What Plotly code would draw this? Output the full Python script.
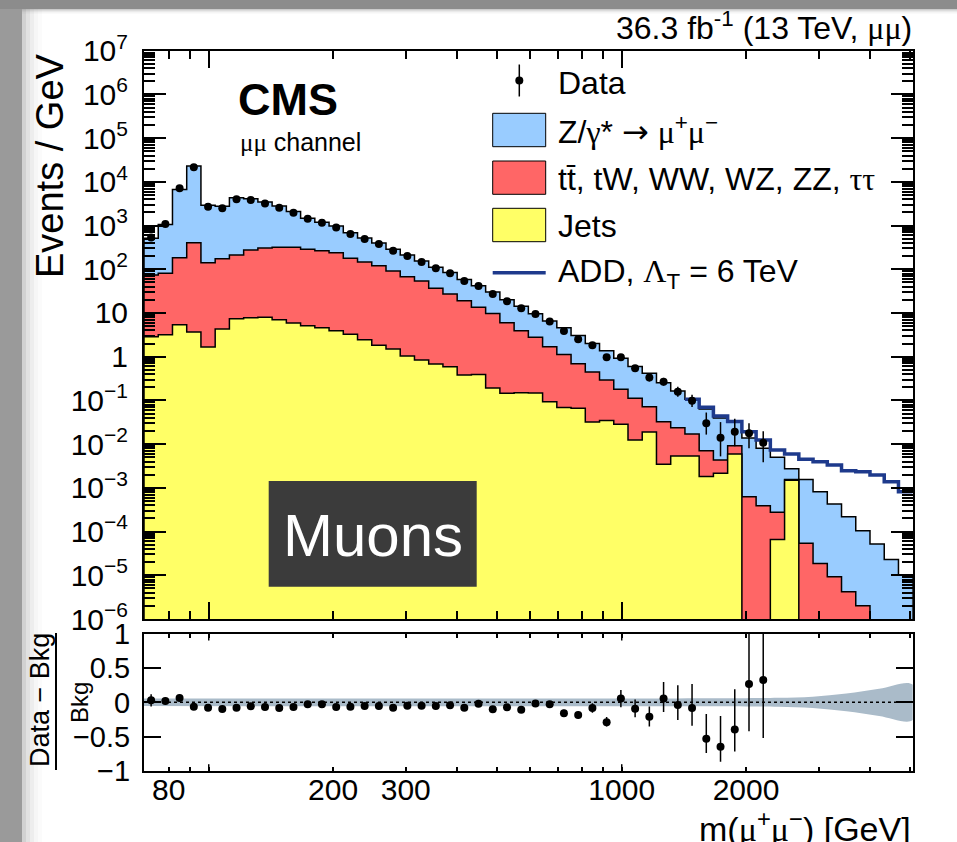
import numpy as np
import plotly.graph_objects as go

W, H = 957, 842
FONT = "Liberation Sans, Arial, Helvetica, sans-serif"
SERIF = "Liberation Serif, Times New Roman, serif"

# ---- binning: equal-width bins in log(m) ----
m_low, m_high, n_bins = 69.7, 5065.0, 54
edges = np.geomspace(m_low, m_high, n_bins + 1)
centers = np.sqrt(edges[:-1] * edges[1:])

# ---- stacked background levels (events / GeV) ----
# top of the full stack: Jets + other + Z/gamma*
stack_total = [515, 1063, 6680, 22950, 2930, 2750, 4320, 4080, 3450, 2790,
               2110, 1475, 1195, 975, 683, 520, 400, 288, 211, 155,
               111, 84.7, 58.4, 42.2, 30.3, 20.0, 14.3, 9.6, 6.56, 4.6,
               3.06, 2.0, 1.36, 0.916, 0.597, 0.421, 0.253, 0.164, 0.107, 0.0638,
               0.0398, 0.0319, 0.0139, 0.0081, 0.0050, 0.00273, 0.00156, 8.1e-4, 4.26e-4, 2.18e-4,
               1.04e-4, 5.2e-5, 2.3e-5, 1.0e-5]
# top of Jets + (tt, tW, WW, WZ, ZZ, tautau)
stack_other = [74, 81, 184, 405, 141, 174, 212, 275, 306, 318,
               318, 286, 266, 239, 178, 147, 120, 91, 67.6, 53.8,
               36.6, 27.2, 19.1, 13.5, 9.8, 5.98, 3.93, 2.77, 1.69, 1.13,
               0.69, 0.446, 0.292, 0.179, 0.112, 0.0717, 0.0325, 0.0237, 0.0170, 0.00706,
               0.00433, 0.00918, 6.25e-4, 3.9e-4, 2.75e-4, 1.55e-3, 5.4e-5, 1.87e-5, 9.2e-6, 4.2e-6,
               2.0e-6, 0, 0, 0]
# Jets alone
stack_jets = [2.86, 3.18, 5.39, 3.67, 1.66, 4.3, 7.4, 7.8, 7.95, 7.0,
              5.9, 5.1, 4.6, 3.93, 3.25, 2.44, 1.82, 1.5, 1.035, 0.84,
              0.68, 0.59, 0.381, 0.391, 0.192, 0.145, 0.15, 0.148, 0.0933, 0.0687,
              0.0659, 0.032, 0.0348, 0.0285, 0.0124, 0.0189, 0.00347, 0.00535, 0.00535, 0.00182,
              0.00215, 0.00593, 0, 0, 6.6e-5, 1.5e-3, 0, 0, 0, 0,
              0, 0, 0, 0]

# ---- (Data - Bkg) / Bkg for the populated bins, with asymmetric errors ----
ratio = [0.03, 0.02, 0.064, -0.063, -0.078, -0.097, -0.078, -0.058, -0.068, -0.083,
         -0.068, -0.028, -0.028, -0.068, -0.063, -0.054, -0.054, -0.078, -0.049, -0.049,
         -0.054, -0.044, -0.078, -0.02, -0.102, -0.073, -0.107, -0.015, -0.028, -0.16,
         -0.185, -0.083, -0.29, 0.055, -0.092, -0.209, 0.055, -0.038, -0.082, -0.531,
         -0.648, -0.399, 0.269, 0.328]
ratio_err_up = [0.09, 0.05, 0.05, 0.03, 0.03, 0.03, 0.03, 0.03, 0.03, 0.03,
                0.03, 0.03, 0.03, 0.03, 0.03, 0.03, 0.03, 0.03, 0.03, 0.03,
                0.03, 0.03, 0.03, 0.03, 0.03, 0.03, 0.03, 0.03, 0.03, 0.05,
                0.05, 0.07, 0.075, 0.127, 0.135, 0.15, 0.243, 0.29, 0.35, 0.36,
                0.45, 0.59, 0.9, 1.1]
ratio_err_dn = [0.09, 0.05, 0.05, 0.03, 0.03, 0.03, 0.03, 0.03, 0.03, 0.03,
                0.03, 0.03, 0.03, 0.03, 0.03, 0.03, 0.03, 0.03, 0.03, 0.03,
                0.03, 0.03, 0.03, 0.03, 0.03, 0.03, 0.03, 0.03, 0.03, 0.05,
                0.05, 0.07, 0.065, 0.127, 0.126, 0.146, 0.195, 0.22, 0.26, 0.21,
                0.22, 0.32, 0.69, 0.85]

# ---- ADD signal + background, from bin 38 upwards ----
add_first_bin = 38
add_total = [0.107, 0.0695, 0.044, 0.033, 0.0192, 0.0124, 0.00733, 0.00593,
             0.00449, 0.00395, 0.00333, 0.00246, 0.00233, 0.00196, 0.00138, 0.00081]

# ---- systematic uncertainty band in the ratio panel ----
band_mass = [69.7, 1000, 2000, 2400, 2900, 3500, 4200, 5065]
band_half = [0.055, 0.058, 0.06, 0.066, 0.083, 0.13, 0.2, 0.26]

# ---- axis ticks ----
x_long_ticks = [100, 1000]
x_short_ticks = [80, 90, 200, 300, 400, 500, 600, 700, 800, 900, 2000, 3000, 4000, 5000]
x_label_vals = [80, 200, 300, 1000, 2000]
x_label_text = ["80", "200", "300", "1000", "2000"]

n_data = len(ratio)
total = np.array(stack_total, dtype=float)
data = total[:n_data] * (1 + np.array(ratio))
data_up = total[:n_data] * np.array(ratio_err_up)
data_dn = total[:n_data] * np.array(ratio_err_dn)

FLOOR = 1e-12


def step_polygon(vals):
    v = np.asarray(vals, dtype=float)
    v = np.where(v > 0, v, FLOOR)
    xs, ys = [edges[0]], [FLOOR]
    for i in range(n_bins):
        xs += [edges[i], edges[i + 1]]
        ys += [v[i], v[i]]
    xs += [edges[-1], edges[0]]
    ys += [FLOOR, FLOOR]
    return xs, ys


fig = go.Figure()

for vals, color in [(stack_total, "#99ccff"), (stack_other, "#ff6666"), (stack_jets, "#ffff66")]:
    xs, ys = step_polygon(vals)
    fig.add_trace(go.Scatter(x=xs, y=ys, mode="lines", fill="toself", fillcolor=color,
                             line=dict(color="black", width=1.5), hoverinfo="skip",
                             showlegend=False, xaxis="x", yaxis="y"))

# ADD curve as a step line
ax, ay = [], []
for k, val in enumerate(add_total):
    i = add_first_bin + k
    ax += [edges[i], edges[i + 1]]
    ay += [val, val]
fig.add_trace(go.Scatter(x=ax, y=ay, mode="lines", line=dict(color="#1e3a8c", width=3.5),
                         hoverinfo="skip", showlegend=False, xaxis="x", yaxis="y"))

# data points
fig.add_trace(go.Scatter(x=centers[:n_data], y=data, mode="markers",
                         marker=dict(color="black", size=8),
                         error_y=dict(type="data", symmetric=False, array=data_up, arrayminus=data_dn,
                                      color="black", thickness=1.5, width=0),
                         showlegend=False, xaxis="x", yaxis="y"))

# ratio panel: uncertainty band
bx = list(band_mass) + list(band_mass[::-1])
by = list(band_half) + [-h for h in band_half[::-1]]
fig.add_trace(go.Scatter(x=bx, y=by, mode="lines", fill="toself", fillcolor="#aabbc9",
                         line=dict(width=0, color="#aabbc9", shape="spline"), hoverinfo="skip",
                         showlegend=False, xaxis="x2", yaxis="y2"))
fig.add_trace(go.Scatter(x=[edges[0], edges[-1]], y=[0, 0], mode="lines",
                         line=dict(color="black", width=1.5, dash="dot"), hoverinfo="skip",
                         showlegend=False, xaxis="x2", yaxis="y2"))
fig.add_trace(go.Scatter(x=centers[:n_data], y=ratio, mode="markers",
                         marker=dict(color="black", size=8),
                         error_y=dict(type="data", symmetric=False, array=ratio_err_up,
                                      arrayminus=ratio_err_dn, color="black", thickness=1.5, width=0),
                         showlegend=False, xaxis="x2", yaxis="y2"))


def px(x):
    return x / W


def py(y):
    return 1 - y / H


y_major = [10.0 ** k for k in range(-6, 8)]
y_text = ["10<sup>−%d</sup>" % -k if k < 0 else ("1" if k == 0 else ("10" if k == 1 else "10<sup>%d</sup>" % k))
          for k in range(-6, 8)]
y_minor = [d * 10.0 ** k for k in range(-6, 7) for d in range(2, 10)]
xrange_log = [np.log10(m_low), np.log10(m_high)]
x_dom = [px(144), px(912.7)]

axis_frame = dict(showgrid=False, zeroline=False, showline=True, linecolor="black", linewidth=2,
                  mirror="allticks", ticks="inside", tickwidth=1.5, tickcolor="black",
                  automargin=False)

fig.update_layout(
    width=W, height=H, margin=dict(l=0, r=0, t=0, b=0, pad=0, autoexpand=False), autosize=False,
    paper_bgcolor="white", plot_bgcolor="white", showlegend=False,
    font=dict(family=FONT, color="black"),
    xaxis=dict(anchor="y", type="log", range=xrange_log, domain=x_dom,
               tickvals=x_long_ticks, ticklen=17, showticklabels=False,
               minor=dict(tickmode="array", tickvals=x_short_ticks, ticks="inside", ticklen=8,
                          tickwidth=1.5, tickcolor="black"),
               **axis_frame),
    xaxis2=dict(anchor="y2", type="log", range=xrange_log, domain=x_dom,
                tickvals=x_label_vals + [100], ticktext=x_label_text + [""], ticklen=3.5,
                tickfont=dict(size=30, family=FONT), ticklabelstandoff=-9,
                minor=dict(tickmode="array",
                           tickvals=[v for v in x_short_ticks if v not in x_label_vals],
                           ticks="inside", ticklen=3.5, tickwidth=1.5, tickcolor="black"),
                **axis_frame),
    yaxis=dict(anchor="x", type="log", range=[-6, 7], domain=[py(619), py(50.7)],
               tickvals=y_major, ticktext=y_text, ticklen=22,
               minor=dict(tickmode="array", tickvals=y_minor, ticks="inside", ticklen=11,
                          tickwidth=1.5, tickcolor="black"),
               tickfont=dict(size=30, family=FONT), ticklabelstandoff=8, **axis_frame),
    yaxis2=dict(anchor="x2", range=[-1, 1], domain=[py(770.7), py(634)],
                tickvals=[-1, -0.5, 0, 0.5, 1], ticktext=["−1", "−0.5", "0", "0.5", "1"],
                ticklen=17, tickfont=dict(size=29, family=FONT), ticklabelstandoff=6,
                **axis_frame),
)

shapes = []
# page frame
shapes.append(dict(type="rect", xref="paper", yref="paper", x0=0, x1=px(22), y0=0, y1=1,
                   fillcolor="#9a9a9a", line=dict(width=0), layer="below"))
shapes.append(dict(type="rect", xref="paper", yref="paper", x0=0, x1=1, y0=py(9), y1=1,
                   fillcolor="#8c8c8c", line=dict(width=0), layer="below"))
for k, op in enumerate([0.45, 0.3, 0.18, 0.09, 0.04]):
    shapes.append(dict(type="rect", xref="paper", yref="paper", x0=px(22 + 4 * k), x1=px(26 + 4 * k),
                       y0=0, y1=py(9), fillcolor="#9a9a9a", opacity=op, line=dict(width=0),
                       layer="below"))
    shapes.append(dict(type="rect", xref="paper", yref="paper", x0=px(22), x1=1,
                       y0=py(10 + k), y1=py(9 + k), fillcolor="#8c8c8c", opacity=op,
                       line=dict(width=0), layer="below"))

# longer ticks of the ratio mass axis at 100 and 1000 GeV
r_top, r_bot = 634.0, 770.7
for m in x_long_ticks:
    xf = x_dom[0] + (np.log10(m) - xrange_log[0]) / (xrange_log[1] - xrange_log[0]) * (x_dom[1] - x_dom[0])
    for ya, yb in [(r_bot, r_bot - 6.5), (r_top, r_top + 6.5)]:
        shapes.append(dict(type="line", xref="paper", yref="paper", x0=xf, x1=xf,
                           y0=py(ya), y1=py(yb), line=dict(color="black", width=1.5)))

# legend symbols
for (y0, y1, col) in [(113.3, 146.7, "#99ccff"), (161, 194.3, "#ff6666"), (208.3, 241.7, "#ffff66")]:
    shapes.append(dict(type="rect", xref="paper", yref="paper", x0=px(492.7), x1=px(545.7),
                       y0=py(y1), y1=py(y0), fillcolor=col, line=dict(color="black", width=1)))
shapes.append(dict(type="line", xref="paper", yref="paper", x0=px(492.7), x1=px(545.7),
                   y0=py(272.7), y1=py(272.7), line=dict(color="#1e3a8c", width=3.5)))
shapes.append(dict(type="line", xref="paper", yref="paper", x0=px(519.3), x1=px(519.3),
                   y0=py(96.5), y1=py(64.5), line=dict(color="black", width=1.5)))
shapes.append(dict(type="circle", xref="paper", yref="paper", x0=px(515.3), x1=px(523.3),
                   y0=py(84.5), y1=py(76.5), fillcolor="black", line=dict(width=0)))
# label box
shapes.append(dict(type="rect", xref="paper", yref="paper", x0=px(268.7), x1=px(476.7),
                   y0=py(586.7), y1=py(481), fillcolor="#3b3b3b", line=dict(width=0)))
# fraction bar of the ratio title
shapes.append(dict(type="line", xref="paper", yref="paper", x0=px(56), x1=px(56),
                   y0=py(770), y1=py(633), line=dict(color="black", width=2)))
fig.update_layout(shapes=shapes)


def greek(s):
    return '<span style="font-family:%s">%s</span>' % (SERIF, s)


def ann(text, x, y, size, xanchor="left", yanchor="middle", color="black", angle=0, bold=False):
    if bold:
        text = "<b>%s</b>" % text
    return dict(text=text, x=px(x), y=py(y), xref="paper", yref="paper", showarrow=False,
                xanchor=xanchor, yanchor=yanchor, textangle=angle,
                font=dict(size=size, color=color, family=FONT))


mumu = greek("μμ")
arrow = '<span style="font-family:DejaVu Sans">→</span>'
annotations = [
    ann("36.3 fb<sup>-1</sup> (13 TeV, %s)" % mumu, 914, 26, 32, xanchor="right"),
    ann("CMS", 236, 99, 45, bold=True),
    ann("%s channel" % mumu, 238, 142, 25),
    ann("Data", 556, 83, 32),
    ann("Z/%s* %s %s<sup>+</sup>%s<sup>−</sup>" % (greek("γ"), arrow, greek("μ"), greek("μ")), 556, 131, 32),
    ann("tt̄, tW, WW, WZ, ZZ, %s" % greek("ττ"), 556, 179, 32),
    ann("Jets", 556, 226, 32),
    ann("ADD, %s<sub>T</sub> = 6 TeV" % greek("Λ"), 556, 273, 32),
    ann("Muons", 373, 535, 60, xanchor="center", color="white"),
    ann("Events / GeV", 50, 166, 38, xanchor="center", angle=-90),
    ann("Data − Bkg", 40, 700, 27, xanchor="center", angle=-90),
    ann("Bkg", 79, 703, 24, xanchor="center", angle=-90),
    ann("m(%s<sup>+</sup>%s<sup>−</sup>) [GeV]" % (greek("μ"), greek("μ")), 913, 826, 34,
        xanchor="right"),
]
fig.update_layout(annotations=annotations)

fig.write_html("out.html")
